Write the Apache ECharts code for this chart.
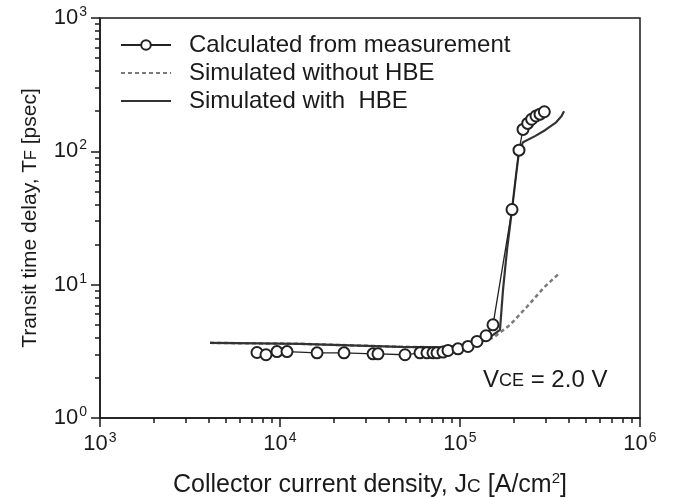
<!DOCTYPE html>
<html>
<head>
<meta charset="utf-8">
<title>Transit time delay vs Jc</title>
<script src="https://cdn.jsdelivr.net/npm/echarts@6/dist/echarts.min.js"></script>
<style>
  html, body { margin: 0; padding: 0; background: #fff; }
  #main { width: 679px; height: 497px; }
</style>
</head>
<body>
<div id="main"></div>
<script>
// calculated from measurement (circles)
var measJc = [7450, 8360, 9620, 10940, 16060, 22680, 32870, 35030, 49480, 59950, 65550, 70790, 74530, 80450, 85770, 97470, 110800, 124300, 139500, 152500, 194500, 212700, 223900, 237700, 250000, 264300, 278300, 294100];
var measTf = [3.10, 2.98, 3.15, 3.15, 3.08, 3.08, 3.03, 3.03, 2.98, 3.08, 3.08, 3.08, 3.08, 3.12, 3.21, 3.30, 3.44, 3.75, 4.14, 5.0, 36.6, 102, 146, 162, 174, 184, 190, 198];

// simulated without HBE (dashed)
var noHbeJc = [4084, 12920, 46420, 77430, 106600, 129300, 152500, 190000, 235500, 292000, 350000];
var noHbeTf = [3.66, 3.60, 3.42, 3.39, 3.48, 3.73, 3.99, 5.0, 6.83, 9.5, 11.9];

// simulated with HBE (solid)
var hbeJc = [4084, 7700, 12920, 24480, 46420, 77430, 106600, 129300, 150600, 166800, 173400, 182500, 194500, 205000, 212700, 223900, 261000, 296800, 342000, 366000, 378500];
var hbeTf = [3.66, 3.63, 3.60, 3.51, 3.42, 3.39, 3.51, 3.79, 4.14, 4.59, 9.17, 18.3, 36.6, 67, 100, 117, 130, 144, 165, 183, 200];

// minor ticks: 2..9 inside each decade (exponent ranges of the axes)
var minorMult = [2, 3, 4, 5, 6, 7, 8, 9];
var xDecadeExp = [3, 4, 5];
var yDecadeExp = [0, 1, 2];

function pairs(xs, ys) {
  return xs.map(function (x, i) { return [x, ys[i]]; });
}
function minorTickExp(exps) {
  var out = [];
  exps.forEach(function (e) {
    minorMult.forEach(function (m) { out.push(e + Math.log10(m)); });
  });
  return out;
}

var FONT = '"Liberation Sans", Arial, sans-serif';
var INK = '#1a1a1a';

function powLabel(v) {
  return '{b|10}{sup|' + Math.round(Math.log10(v)) + '}';
}
var powRich = {
  b: { fontSize: 22, fontFamily: FONT, color: INK, lineHeight: 26 },
  sup: { fontSize: 14, fontFamily: FONT, color: INK, verticalAlign: 'top', lineHeight: 14, padding: [0, 0, 0, 1] }
};

var gridRect = { left: 100, right: 39, top: 18, bottom: 79, outerBoundsMode: 'none', containLabel: false };
var tickLine = { color: INK, width: 1.5 };

var chart = echarts.init(document.getElementById('main'));
chart.setOption({
  animation: false,
  textStyle: { fontFamily: FONT },
  grid: [
    Object.assign({ show: true, borderColor: INK, borderWidth: 1.5 }, gridRect),
    Object.assign({}, gridRect)
  ],
  legend: {
    orient: 'vertical',
    left: 115,
    top: 28,
    itemWidth: 50,
    itemHeight: 12,
    itemGap: 4,
    textStyle: { fontSize: 24, color: INK, fontFamily: FONT, lineHeight: 24, padding: [0, 0, 0, 13] },
    data: [
      { name: 'Calculated from measurement' },
      { name: 'Simulated without HBE', itemStyle: { opacity: 0 } },
      { name: 'Simulated with  HBE', itemStyle: { opacity: 0 } }
    ]
  },
  xAxis: [{
    type: 'log', logBase: 10, min: 1e3, max: 1e6, gridIndex: 0, position: 'bottom',
    axisLine: { lineStyle: tickLine },
    axisTick: { length: 9, lineStyle: tickLine },
    axisLabel: { formatter: powLabel, rich: powRich, color: INK, margin: 13 },
    splitLine: { show: false },
    name: '{n|Collector current density, J}{sub|C}{n| [A/cm}{sup|2}{n|]}',
    nameLocation: 'middle', nameGap: 53,
    nameTextStyle: {
      rich: {
        n: { fontSize: 25, color: INK, fontFamily: FONT, lineHeight: 28 },
        sub: { fontSize: 19, color: INK, fontFamily: FONT, verticalAlign: 'middle', lineHeight: 25, padding: [3, 0, 0, 0] },
        sup: { fontSize: 15, color: INK, fontFamily: FONT, verticalAlign: 'top', lineHeight: 15 }
      }
    }
  }, {
    // minor ticks only
    type: 'value', min: 3, max: 6, gridIndex: 1, position: 'bottom',
    axisLine: { show: false },
    axisTick: { show: true, length: 5, customValues: minorTickExp(xDecadeExp), lineStyle: tickLine },
    axisLabel: { show: false },
    splitLine: { show: false }
  }],
  yAxis: [{
    type: 'log', logBase: 10, min: 1, max: 1e3, gridIndex: 0, position: 'left',
    axisLine: { show: true, lineStyle: tickLine },
    axisTick: { show: true, length: 9, lineStyle: tickLine },
    axisLabel: { formatter: powLabel, rich: powRich, color: INK, margin: 13 },
    splitLine: { show: false },
    name: '{n|Transit time delay, T}{sub|F}{n| [psec]}',
    nameLocation: 'middle', nameGap: 57, nameRotate: 90,
    nameTextStyle: {
      rich: {
        n: { fontSize: 21, color: INK, fontFamily: FONT, lineHeight: 26 },
        sub: { fontSize: 16, color: INK, fontFamily: FONT, verticalAlign: 'middle', lineHeight: 23, padding: [3, 0, 0, 0] }
      }
    }
  }, {
    // minor ticks only
    type: 'value', min: 0, max: 3, gridIndex: 1, position: 'left',
    axisLine: { show: false },
    axisTick: { show: true, length: 5, customValues: minorTickExp(yDecadeExp), lineStyle: tickLine },
    axisLabel: { show: false },
    splitLine: { show: false }
  }],
  graphic: [{
    type: 'text',
    left: 483, top: 368,
    style: {
      text: '{v|V}{s|CE}{v| = 2.0 V}',
      fill: INK,
      rich: {
        v: { fontSize: 24, fill: INK, fontFamily: FONT, lineHeight: 28 },
        s: { fontSize: 18, fill: INK, fontFamily: FONT, verticalAlign: 'middle', lineHeight: 25, padding: [3, 0, 0, 0] }
      }
    }
  }],
  series: [{
    name: 'Simulated without HBE',
    type: 'line', xAxisIndex: 0, yAxisIndex: 0, z: 2,
    data: pairs(noHbeJc, noHbeTf),
    showSymbol: false, symbol: 'none',
    lineStyle: { color: '#7a7a7a', width: 2.5, type: [4, 3] },
    itemStyle: { color: '#7a7a7a' }
  }, {
    name: 'Simulated with  HBE',
    type: 'line', xAxisIndex: 0, yAxisIndex: 0, z: 3,
    data: pairs(hbeJc, hbeTf),
    showSymbol: false, symbol: 'none',
    lineStyle: { color: '#333', width: 2.2 },
    itemStyle: { color: '#333' }
  }, {
    name: 'Calculated from measurement',
    type: 'line', xAxisIndex: 0, yAxisIndex: 0, z: 4,
    data: pairs(measJc, measTf),
    symbol: 'emptyCircle', symbolSize: 11,
    lineStyle: { color: '#222', width: 1.3 },
    itemStyle: { color: '#222', borderWidth: 1.3 }
  }]
});
</script>
</body>
</html>
